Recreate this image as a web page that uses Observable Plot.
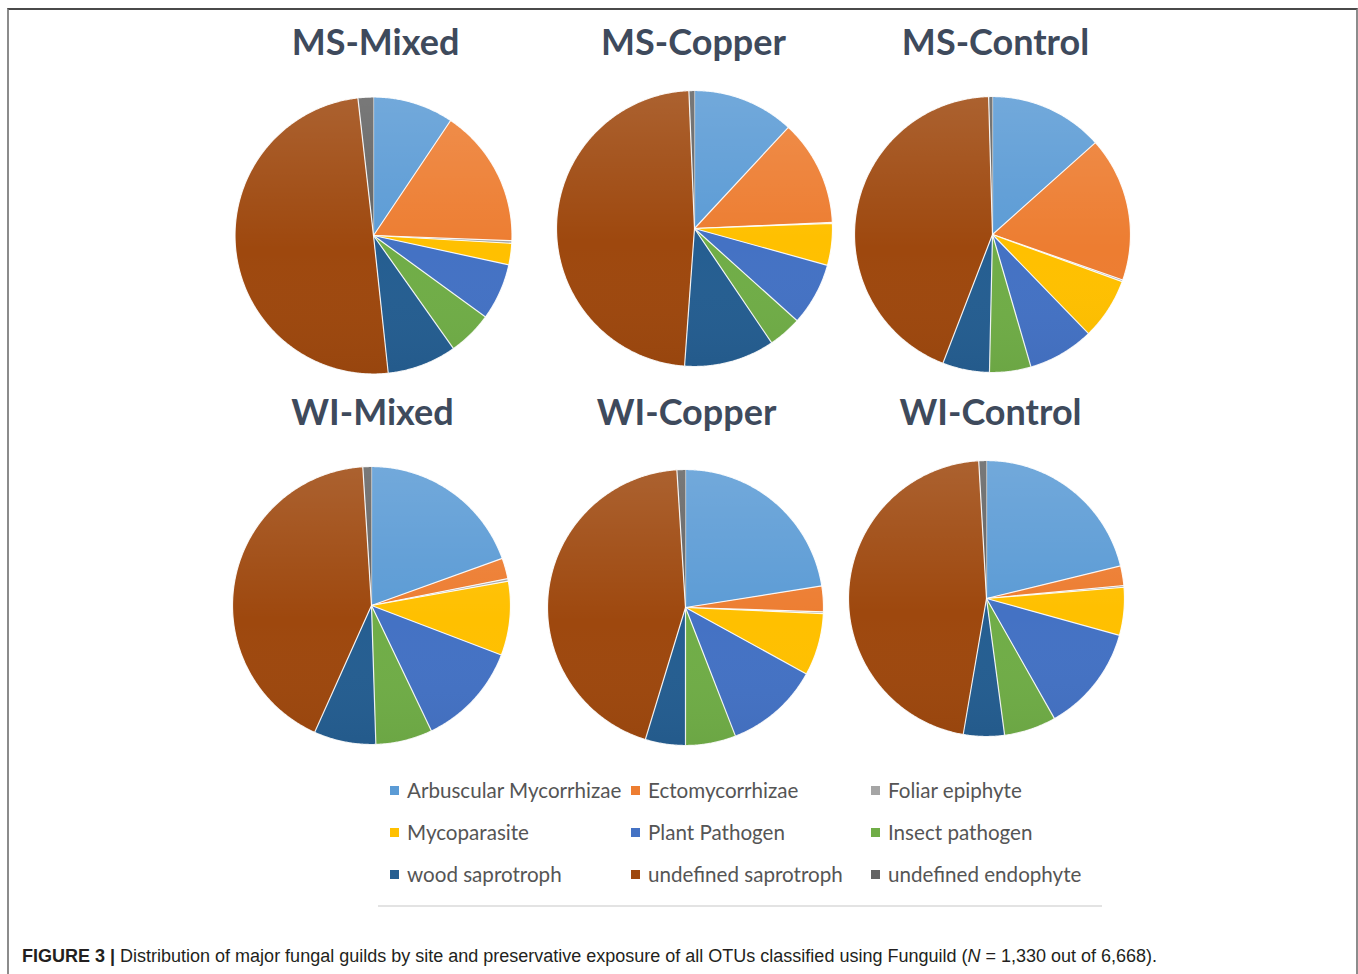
<!DOCTYPE html>
<html>
<head>
<meta charset="utf-8">
<title>Fungal guilds by site and preservative</title>
<script src="https://cdn.jsdelivr.net/npm/d3@7"></script>
<script src="https://cdn.jsdelivr.net/npm/@observablehq/plot@0.6"></script>
<style>
  html, body { margin: 0; padding: 0; background: #ffffff; }
  body { width: 1358px; height: 974px; position: relative; overflow: hidden; }
  #frame {
    position: absolute; left: 7px; top: 8px; width: 1347px; height: 980px;
    border-top: 2px solid #4a4a4a; border-left: 2px solid #8c8c8c; border-right: 2px solid #8c8c8c;
  }
  #chart { position: absolute; left: 0; top: 0; }
  .legend-item {
    position: absolute; height: 24px; display: flex; align-items: center;
    font-family: Lato, "Open Sans", sans-serif; font-size: 20.6px; color: #555555; white-space: nowrap;
  }
  .legend-item .swatch { width: 9px; height: 9px; margin-right: 8px; flex: none; }
  #rule { position: absolute; left: 378px; top: 905px; width: 724px; height: 0; border-top: 2px solid #e3e3e3; }
  #caption {
    position: absolute; left: 22px; top: 946px; white-space: nowrap;
    font-family: "Liberation Sans", Arial, sans-serif; font-size: 18px; color: #231f20;
  }
  #caption b { font-weight: bold; }
</style>
</head>
<body>
<div id="frame"></div>
<div id="chart"></div>
<div id="legend"></div>
<div id="rule"></div>
<div id="caption"><b>FIGURE 3 |</b> Distribution of major fungal guilds by site and preservative exposure of all OTUs classified using Funguild (<i>N</i> = 1,330 out of 6,668).</div>
<script>
// Guilds in slice order (clockwise from 12 o'clock) and their colours
const guilds = [
  "Arbuscular Mycorrhizae", "Ectomycorrhizae", "Foliar epiphyte",
  "Mycoparasite", "Plant Pathogen", "Insect pathogen",
  "wood saprotroph", "undefined saprotroph", "undefined endophyte"
];
const guildColors = [
  "#5B9BD5", "#ED7D31", "#A5A5A5",
  "#FFC000", "#4472C4", "#70AD47",
  "#255E91", "#9E480E", "#636363"
];

// Panels (site-treatment)
const panels = ["MS-Mixed", "MS-Copper", "MS-Control", "WI-Mixed", "WI-Copper", "WI-Control"];

// Share of classified OTUs per guild (%), same order as guilds
const msMixed   = [9.4, 16.2, 0.3, 2.5, 6.6, 5.2, 8.1, 49.9, 1.8];
const msCopper  = [11.9, 12.4, 0.1, 4.9, 7.35, 3.9, 10.6, 48.2, 0.65];
const msControl = [13.4, 16.95, 0.2, 7.2, 7.75, 4.85, 5.5, 43.7, 0.45];
const wiMixed   = [19.5, 2.4, 0.3, 8.6, 12.1, 6.6, 7.2, 42.3, 1.0];
const wiCopper  = [22.5, 3.0, 0.2, 7.3, 11.1, 5.9, 4.7, 44.3, 1.0];
const wiControl = [21.2, 2.3, 0.2, 5.6, 12.5, 6.1, 4.8, 46.4, 0.9];

const shares = {
  "MS-Mixed": msMixed, "MS-Copper": msCopper, "MS-Control": msControl,
  "WI-Mixed": wiMixed, "WI-Copper": wiCopper, "WI-Control": wiControl
};

// Where each pie sits on the page (centre, radius) and where its title goes
const layout = {
  "MS-Mixed":   {cx: 373, cy: 235, r: 138.5, tx: 375, ty: 43},
  "MS-Copper":  {cx: 694, cy: 228, r: 138,   tx: 693, ty: 43},
  "MS-Control": {cx: 992, cy: 234, r: 138,   tx: 995, ty: 43},
  "WI-Mixed":   {cx: 371, cy: 605, r: 139,   tx: 372, ty: 413},
  "WI-Copper":  {cx: 685, cy: 607, r: 138,   tx: 686, ty: 413},
  "WI-Control": {cx: 986, cy: 598, r: 138,   tx: 990, ty: 413}
};

const W = 1358, H = 760;

// Build a closed polygon for every slice from the pie layout of its values
const pie = d3.pie().sort(null).value(d => d);
const slicePoints = [];
const shadePoints = [];
for (const panel of panels) {
  const {cx, cy, r} = layout[panel];
  pie(shares[panel]).forEach((a, i) => {
    const key = panel + "|" + guilds[i];
    const span = a.endAngle - a.startAngle;
    const n = Math.max(2, Math.ceil(span / 0.008));
    slicePoints.push({key, guild: guilds[i], px: cx, py: cy});
    for (let k = 0; k <= n; k++) {
      const t = a.startAngle + span * k / n;
      slicePoints.push({key, guild: guilds[i], px: cx + r * Math.sin(t), py: cy - r * Math.cos(t)});
    }
  });
  for (let k = 0; k <= 720; k++) {
    const t = 2 * Math.PI * k / 720;
    shadePoints.push({key: panel, px: cx + r * Math.sin(t), py: cy - r * Math.cos(t)});
  }
}

const chart = Plot.plot({
  width: W,
  height: H,
  margin: 0,
  x: {type: "linear", domain: [0, W], range: [0, W], axis: null},
  y: {type: "linear", domain: [0, H], range: [0, H], axis: null},
  color: {domain: guilds, range: guildColors},
  style: {background: "transparent", overflow: "visible"},
  marks: [
    Plot.line(slicePoints, {
      x: "px", y: "py", z: "key", fill: "guild",
      stroke: "#ffffff", strokeWidth: 1.2, strokeOpacity: 0.9, strokeLinejoin: "round", curve: "linear"
    }),
    Plot.line(shadePoints, {
      x: "px", y: "py", z: "key", fill: "url(#pieShade)", stroke: "none", curve: "linear"
    }),
    Plot.text(panels, {
      x: d => layout[d].tx, y: d => layout[d].ty, text: d => d,
      fontFamily: "Lato, 'Open Sans', sans-serif", fontWeight: "bold", fontSize: 36,
      fill: "#3E4A5C", textAnchor: "middle", lineAnchor: "middle"
    })
  ]
});

// Soft top-to-bottom shading laid over each pie
const defs = d3.select(chart).insert("defs", ":first-child");
const grad = defs.append("linearGradient").attr("id", "pieShade")
  .attr("x1", 0).attr("y1", 0).attr("x2", 0).attr("y2", 1);
grad.append("stop").attr("offset", "0%").attr("stop-color", "#ffffff").attr("stop-opacity", 0.14);
grad.append("stop").attr("offset", "55%").attr("stop-color", "#ffffff").attr("stop-opacity", 0.0);
grad.append("stop").attr("offset", "100%").attr("stop-color", "#000000").attr("stop-opacity", 0.04);

document.getElementById("chart").appendChild(chart);

// Legend: three columns, three rows
const legendCols = [390, 631, 871];
const legendRows = [790, 832, 874];
const legend = document.getElementById("legend");
guilds.forEach((g, i) => {
  const item = document.createElement("div");
  item.className = "legend-item";
  item.style.left = legendCols[i % 3] + "px";
  item.style.top = (legendRows[Math.floor(i / 3)] - 12) + "px";
  const sw = document.createElement("span");
  sw.className = "swatch";
  sw.style.background = guildColors[i];
  item.appendChild(sw);
  item.appendChild(document.createTextNode(g));
  legend.appendChild(item);
});
</script>
</body>
</html>
